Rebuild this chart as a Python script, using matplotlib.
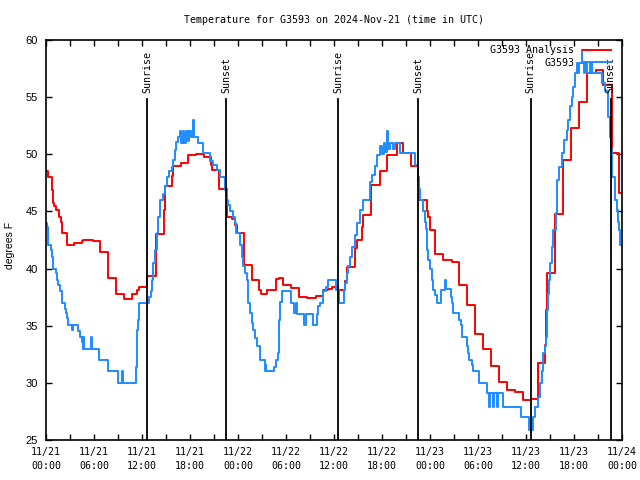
import matplotlib
matplotlib.use("Agg")
import matplotlib.pyplot as plt
import matplotlib.transforms as mtransforms
import numpy as np

# ---------------- data (hours since 2024-11-21 00:00 UTC, degrees F) -------------
obs_hours = [0.0, 0.08, 0.29, 0.58, 0.71, 0.83, 0.92, 1.21, 1.33, 1.54, 1.75, 1.96,
             2.38, 2.5, 2.58, 2.79, 3.3, 3.42, 4.04, 4.25, 4.46, 4.58, 4.65, 4.7,
             5.65, 5.75, 6.67, 7.79, 9.04, 9.5, 9.6, 11.2, 11.33, 11.5, 11.67,
             12.92, 13.08, 13.2, 13.4, 13.6, 13.83, 14.04, 14.25, 14.6, 14.875,
             15.08, 15.4, 15.7, 15.9, 16.1, 16.3, 16.5, 16.7, 16.9, 17.1, 17.3,
             17.5, 17.7, 17.9, 18.1, 18.4, 18.5, 19.04, 19.67, 20.5, 20.9, 21.33,
             21.75, 22.375, 22.58, 22.79, 23.0, 23.42, 23.625, 23.75, 24.25, 24.46,
             24.67, 24.875, 25.08, 25.29, 25.5, 25.7, 25.9, 26.125, 26.33, 26.75,
             27.375, 27.45, 27.5, 28.5, 28.75, 29.04, 29.17, 29.25, 29.46, 30.58,
             31.0, 31.3, 31.4, 32.3, 32.45, 33.4, 33.83, 34.04, 34.25, 34.67, 35.0,
             35.3, 36.25, 36.67, 37.25, 37.375, 37.58, 37.79, 38.0, 38.2, 38.625,
             38.83, 39.25, 39.67, 40.5, 40.7, 41.125, 41.33, 41.75, 42.0, 42.2,
             42.4, 42.58, 42.7, 43.0, 43.4, 43.6, 44.25, 46.125, 46.54, 46.67,
             46.75, 47.08, 47.375, 47.5, 47.58, 47.79, 48.0, 48.2, 48.4, 48.625,
             48.83, 49.33, 49.875, 49.95, 50.58, 50.7, 50.83, 50.9, 51.67, 51.83,
             51.96, 52.58, 52.8, 52.9, 53.2, 53.4, 54.125, 55.17, 55.4, 55.5,
             55.85, 56.0, 56.35, 56.5, 57.17, 59.33, 60.4, 60.9, 61.125, 61.54,
             61.75, 61.96, 62.17, 62.375, 62.5, 62.58, 62.7, 62.875, 63.0, 63.2,
             63.29, 63.4, 63.7, 63.92, 64.17, 64.46, 64.79, 65.08, 65.29, 65.5,
             65.7, 65.9, 66.125, 66.4, 66.5, 66.67, 66.96, 67.05, 67.3, 67.4,
             67.58, 68.0, 68.2, 69.46, 69.875, 70.29, 70.5, 70.58, 70.71, 71.125,
             71.33, 71.46, 71.625, 71.75, 71.85]
obs_temps = [44.0, 43.6, 42.1, 41.6, 41.0, 40.5, 40.0, 39.6, 39.0, 38.6, 38.0, 37.0,
             36.5, 36.1, 35.7, 35.1, 34.6, 35.1, 34.5, 34.0, 33.6, 33.0, 34.0, 33.0,
             34.0, 33.0, 32.0, 31.0, 30.0, 31.0, 30.0, 31.4, 34.6, 35.5, 37.0,
             37.5, 38.0, 39.0, 40.5, 41.6, 43.1, 44.5, 46.0, 46.5, 47.2,
             48.0, 48.5, 48.9, 49.5, 50.4, 51.1, 51.5, 52.0, 51.0, 52.0, 51.0,
             52.0, 51.2, 52.0, 51.5, 53.0, 51.5, 51.0, 50.1, 49.4, 49.1, 48.6,
             48.0, 46.9, 46.0, 45.6, 45.0, 44.5, 44.0, 43.1, 42.1, 41.0,
             40.2, 39.6, 39.0, 37.0, 36.1, 35.2, 34.6, 33.9, 33.2, 32.0,
             31.0, 31.6, 31.0, 31.4, 32.0, 32.6, 35.5, 37.1, 38.0, 37.0,
             36.1, 37.0, 36.0, 35.1, 36.0, 35.1, 36.0, 36.7, 37.0, 38.0, 38.4,
             39.0, 38.1, 37.0, 38.1, 38.7, 39.6, 40.2, 41.0, 41.9, 42.9,
             44.0, 45.1, 46.0, 47.6, 48.2, 49.0, 49.9, 50.7, 50.0, 51.0,
             50.2, 52.0, 50.5, 51.0, 50.5, 51.0, 50.1, 49.1, 48.0, 47.0,
             46.0, 45.0, 44.1, 43.5, 41.6, 40.75, 40.0, 39.0, 38.1, 37.7,
             37.0, 38.1, 39.0, 38.2, 37.5, 37.0, 36.5, 36.1, 35.5, 35.06,
             34.0, 33.2, 32.6, 32.0, 31.56, 31.0, 30.0, 29.1, 27.9, 29.1,
             27.9, 29.1, 27.9, 29.1, 27.9, 27.0, 25.9, 27.0, 27.9, 28.8,
             30.0, 31.0, 32.6, 33.2, 34.0, 36.4, 37.8, 39.0, 40.5, 41.6,
             41.9, 43.4, 44.9, 47.75, 48.9, 50.1, 51.25, 52.1, 53.0, 54.2,
             55.0, 55.9, 57.1, 58.0, 57.1, 58.0, 59.1, 58.0, 57.1, 58.0,
             57.1, 58.0, 57.1, 56.2, 55.5, 53.3, 51.5, 50.5, 48.0, 46.0,
             45.1, 44.1, 43.4, 42.1, 42.1]

ana_hours = [0.0, 0.29, 0.71, 0.83, 1.0, 1.25, 1.67, 1.83, 1.96, 2.58, 3.5, 4.46,
             4.67, 5.83, 6.75, 7.79, 8.75, 9.75, 10.71, 11.33, 11.67, 12.67, 13.7,
             14.75, 14.875, 15.79, 15.9, 16.83, 17.75, 18.7, 19.79, 20.58, 20.79,
             21.67, 22.58, 23.2, 23.625, 23.83, 24.75, 25.79, 26.67, 26.83, 27.67,
             28.75, 29.125, 29.67, 30.625, 31.67, 32.67, 33.7, 34.67, 35.2, 35.7,
             36.54, 37.375, 37.58, 38.625, 38.83, 39.54, 39.67, 40.58, 41.75,
             42.67, 43.92, 44.6, 45.6, 46.54, 46.67, 47.58, 47.79, 48.0, 48.625,
             49.67, 50.7, 51.67, 52.67, 53.67, 54.67, 55.625, 56.67, 57.67,
             58.625, 59.67, 60.58, 61.54, 62.375, 62.5, 62.67, 63.6, 64.67,
             65.58, 66.625, 67.58, 68.75, 69.67, 70.71, 71.67, 72.0]
ana_temps = [48.5, 48.0, 46.9, 45.7, 45.5, 45.1, 44.5, 44.1, 43.1, 42.1, 42.2, 42.4,
             42.5, 42.4, 41.45, 39.15, 37.75, 37.3, 37.8, 38.1, 38.4, 39.35, 43.0,
             45.1, 47.2, 48.1, 49.0, 49.2, 49.9, 50.0, 49.8, 49.1, 48.6,
             47.0, 44.5, 44.3, 43.8, 43.1, 40.3, 39.0, 38.1, 37.8, 38.1,
             39.05, 39.2, 38.55, 38.3, 37.5, 37.4, 37.6, 38.1, 38.2, 38.36,
             38.1, 38.9, 40.1, 41.8, 42.5, 43.6, 44.7, 47.3, 48.5,
             49.9, 51.0, 50.1, 49.0, 47.6, 46.0, 45.0, 44.5, 43.4, 41.3,
             40.75, 40.6, 38.6, 36.8, 34.3, 32.96, 31.5, 30.1, 29.4,
             29.2, 28.5, 28.6, 31.7, 33.3, 36.4, 39.6, 44.8, 49.5,
             52.3, 54.6, 57.1, 57.4, 56.1, 50.1, 46.6, 46.6]

sunrise_hours = [12.65, 36.55, 60.58]
sunset_hours = [22.5, 46.55, 70.58]

xtick_hours = [0, 6, 12, 18, 24, 30, 36, 42, 48, 54, 60, 66, 72]
xtick_labels = ["11/21\n00:00", "11/21\n06:00", "11/21\n12:00", "11/21\n18:00",
                "11/22\n00:00", "11/22\n06:00", "11/22\n12:00", "11/22\n18:00",
                "11/23\n00:00", "11/23\n06:00", "11/23\n12:00", "11/23\n18:00",
                "11/24\n00:00"]
ytick_values = [25, 30, 35, 40, 45, 50, 55, 60]

RED = "#ff0000"
BLUE = "#1e8cff"
MONO = ["DejaVu Sans Mono"]
SANS = ["Liberation Sans", "DejaVu Sans"]

fig = plt.figure(figsize=(6.4, 4.8), dpi=100)
ax = fig.add_axes([46 / 640, 40 / 480, 576 / 640, 400 / 480])

ax.step(ana_hours, ana_temps, where="post", color=RED, lw=1.4,
        label="G3593 Analysis")
ax.step(obs_hours, obs_temps, where="post", color=BLUE, lw=1.4, label="G3593")

trans = mtransforms.blended_transform_factory(ax.transData, ax.transAxes)
for h in sunrise_hours:
    ax.axvline(h, ymin=0, ymax=0.8525, color="black", lw=1.3)
    ax.text(h, 0.8675, "Sunrise", rotation=90, ha="center", va="bottom",
            transform=trans, family=MONO, fontsize=7.2)
for h in sunset_hours:
    ax.axvline(h, ymin=0, ymax=0.8525, color="black", lw=1.3)
    ax.text(h, 0.8675, "Sunset", rotation=90, ha="center", va="bottom",
            transform=trans, family=MONO, fontsize=7.2)

ax.set_xlim(0, 72)
ax.set_ylim(25, 60)
ax.set_xticks(xtick_hours)
ax.set_xticklabels(xtick_labels, family=MONO, fontsize=7.2)
for lbl in ax.get_xticklabels():
    lbl.set_linespacing(1.45)
ax.set_xticks(np.arange(3, 72, 6), minor=True)
ax.set_yticks(ytick_values)
ax.set_yticklabels([str(v) for v in ytick_values], family=SANS, fontsize=8)
ax.tick_params(axis="both", which="both", direction="in", top=True, right=True,
               length=4, width=1.0)
ax.tick_params(axis="x", which="major", pad=5)
ax.tick_params(axis="y", which="major", pad=6)
for sp in ax.spines.values():
    sp.set_linewidth(1.2)

ax.text(-0.0625, 0.4875, "degrees F", rotation=90,
        ha="center", va="center", transform=ax.transAxes, family=SANS, fontsize=7.5)

fig.text(334 / 640, 1 - 20 / 480, "Temperature for G3593 on 2024-Nov-21 (time in UTC)",
         ha="center", va="center", family=MONO, fontsize=7.2)

leg = ax.legend(loc="upper right", bbox_to_anchor=(0.981, 0.987), frameon=False,
                markerfirst=False, prop={"family": MONO, "size": 7.2},
                handlelength=2.8, handletextpad=0.9, labelspacing=0.28,
                borderpad=0, borderaxespad=0)

fig.savefig("out.png", dpi=100)
